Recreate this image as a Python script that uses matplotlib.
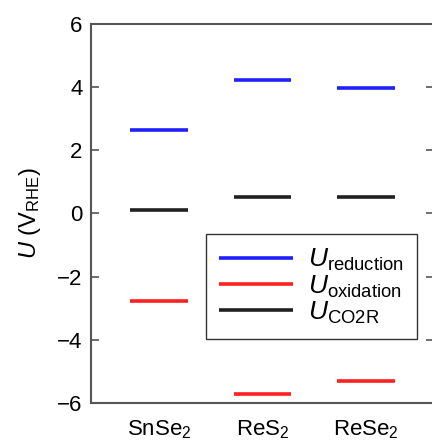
import numpy as np
import matplotlib
matplotlib.use("Agg")
import matplotlib.pyplot as plt

plt.rcParams["font.family"] = ["Liberation Sans", "DejaVu Sans"]
plt.rcParams["mathtext.fontset"] = "custom"
plt.rcParams["mathtext.rm"] = "Liberation Sans"
plt.rcParams["mathtext.it"] = "Liberation Sans:italic"
plt.rcParams["mathtext.bf"] = "Liberation Sans:bold"

materiale = [r"SnSe$_2$", r"ReS$_2$", r"ReSe$_2$"]
u_reducere = [2.65, 4.24, 3.96]
u_oxidare = [-2.77, -5.71, -5.31]
u_co2r = [0.11, 0.51, 0.51]

x = np.arange(1, len(materiale) + 1)
jum = 0.28

fig = plt.figure(figsize=(4.32, 4.46), dpi=100)
ax = fig.add_axes([91 / 432, 43 / 446, 343 / 432, 379 / 446])

ax.hlines(u_reducere, x - jum, x + jum, colors="#2020ff", lw=2.6, label=r"$U_{\mathrm{reduction}}$")
ax.hlines(u_oxidare, x - jum, x + jum, colors="#ff2020", lw=2.6, label=r"$U_{\mathrm{oxidation}}$")
ax.hlines(u_co2r, x - jum, x + jum, colors="#202020", lw=2.6, label=r"$U_{\mathrm{CO2R}}$")

ax.set_xlim(0.34, 3.66)
ax.set_ylim(-6, 6)
ax.set_yticks([-6, -4, -2, 0, 2, 4, 6])
ax.set_yticklabels(["\u22126", "\u22124", "\u22122", "0", "2", "4", "6"])
ax.set_xticks(x)
ax.set_xticklabels(materiale)
ax.tick_params(axis="y", direction="in", length=6, width=1.2, color="#555555",
               labelsize=16, right=True, pad=6)
ax.tick_params(axis="x", length=0, labelsize=16, pad=11)
for s in ax.spines.values():
    s.set_color("#555555")
    s.set_linewidth(1.5)

ax.set_ylabel(r"$U$ (V$_{\mathrm{RHE}}$)", fontsize=17, labelpad=10)

leg = ax.legend(loc="upper left", bbox_to_anchor=(0.335, 0.446), borderaxespad=0,
                fontsize=19, frameon=True, fancybox=False, edgecolor="black",
                handlelength=2.8, handletextpad=0.55, labelspacing=0.0, borderpad=0.5)
leg.get_frame().set_linewidth(1.0)

fig.savefig("out.png", dpi=100)
